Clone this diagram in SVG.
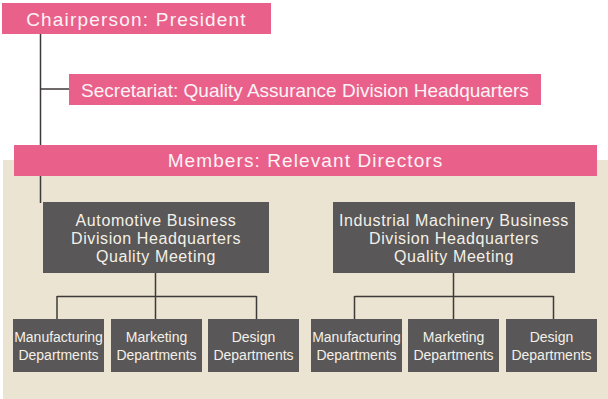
<svg xmlns="http://www.w3.org/2000/svg" width="608" height="399" viewBox="0 0 608 399">
<style>
.pink{fill:#e9618a}
.dark{fill:#595757}
.pt{font-family:"Liberation Sans",Arial,sans-serif;font-size:19px;fill:#fdf3f6}
.dt{font-family:"Liberation Sans",Arial,sans-serif;font-size:16px;fill:#f4f0e8;text-anchor:middle;letter-spacing:0.6px}
.ct{font-family:"Liberation Sans",Arial,sans-serif;font-size:14px;fill:#f4f0e8;text-anchor:middle}
.ln{stroke:#3e3a39;stroke-width:1.5;fill:none}
</style>
<rect x="0" y="0" width="608" height="399" fill="#ffffff"/>
<rect id="panel" x="3" y="160" width="605" height="239" fill="#ebe4d2"/>
<g id="connectors">
<path class="ln" d="M40.5 34V203M40 89H69"/>
<path class="ln" d="M155.5 273V319M57 296.5H256.5M57 296V319M256.5 296V319"/>
<path class="ln" d="M453.5 273V319M354.5 296.5H553.5M354.5 296V319M553.5 296V319"/>
</g>
<g id="chair">
<rect class="pink" x="2" y="3" width="269" height="31"/>
<text class="pt" x="136.5" y="26" text-anchor="middle" letter-spacing="1.2">Chairperson: President</text>
</g>
<g id="secretariat">
<rect class="pink" x="69" y="74" width="472" height="31"/>
<text class="pt" x="305" y="97" text-anchor="middle">Secretariat: Quality Assurance Division Headquarters</text>
</g>
<g id="members">
<rect class="pink" x="14" y="145" width="583" height="31"/>
<text class="pt" x="305.5" y="167" text-anchor="middle" letter-spacing="1.1">Members: Relevant Directors</text>
</g>
<g id="auto">
<rect class="dark" x="43" y="202" width="226" height="71"/>
<text class="dt" x="156" y="226">Automotive Business</text>
<text class="dt" x="156" y="244">Division Headquarters</text>
<text class="dt" x="156" y="262">Quality Meeting</text>
</g>
<g id="industrial">
<rect class="dark" x="333" y="202" width="242" height="71"/>
<text class="dt" x="454" y="226">Industrial Machinery Business</text>
<text class="dt" x="454" y="244">Division Headquarters</text>
<text class="dt" x="454" y="262">Quality Meeting</text>
</g>
<g id="auto-mfg">
<rect class="dark" x="13" y="319" width="91" height="53"/>
<text class="ct" x="58.5" y="342">Manufacturing</text>
<text class="ct" x="58.5" y="360">Departments</text>
</g>
<g id="auto-mkt">
<rect class="dark" x="111" y="319" width="91" height="53"/>
<text class="ct" x="156.5" y="342">Marketing</text>
<text class="ct" x="156.5" y="360">Departments</text>
</g>
<g id="auto-des">
<rect class="dark" x="208" y="319" width="91" height="53"/>
<text class="ct" x="253.5" y="342">Design</text>
<text class="ct" x="253.5" y="360">Departments</text>
</g>
<g id="ind-mfg">
<rect class="dark" x="311" y="319" width="91" height="53"/>
<text class="ct" x="356.5" y="342">Manufacturing</text>
<text class="ct" x="356.5" y="360">Departments</text>
</g>
<g id="ind-mkt">
<rect class="dark" x="408" y="319" width="91" height="53"/>
<text class="ct" x="453.5" y="342">Marketing</text>
<text class="ct" x="453.5" y="360">Departments</text>
</g>
<g id="ind-des">
<rect class="dark" x="506" y="319" width="91" height="53"/>
<text class="ct" x="551.5" y="342">Design</text>
<text class="ct" x="551.5" y="360">Departments</text>
</g>
</svg>
